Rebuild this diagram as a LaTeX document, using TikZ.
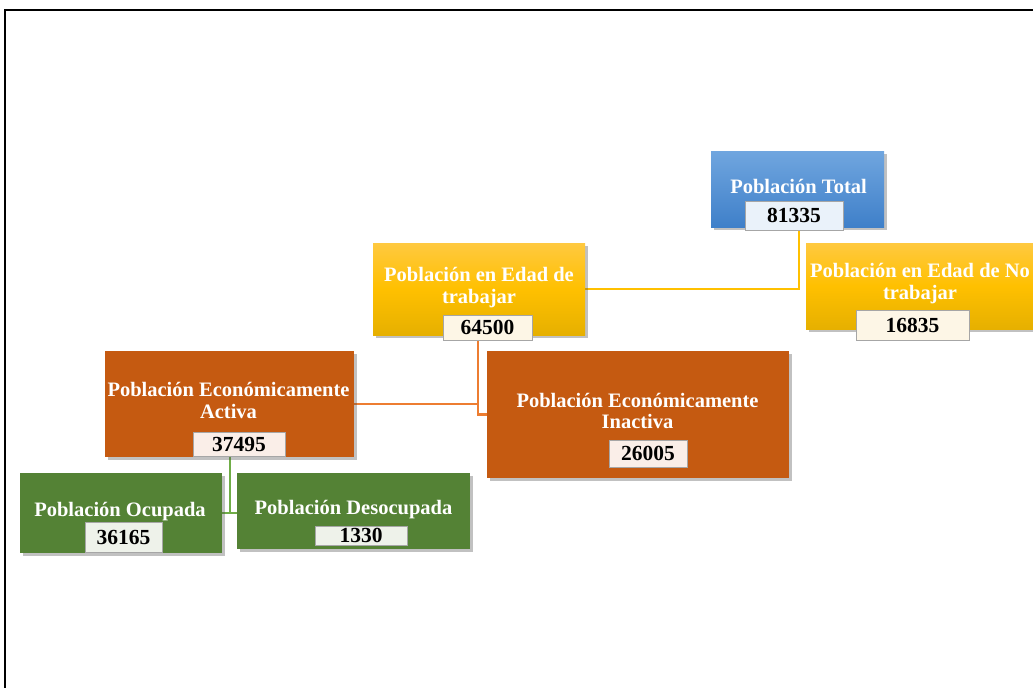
\documentclass[tikz,border=0pt]{standalone}
\usepackage{fontspec}
\setmainfont{Liberation Serif}
\usetikzlibrary{shadows,backgrounds}

\definecolor{blueTop}{HTML}{70A6DF}
\definecolor{blueBot}{HTML}{3F80C9}
\definecolor{yelTop}{HTML}{FFC940}
\definecolor{yelMid}{HTML}{FFC000}
\definecolor{yelBot}{HTML}{E6B000}
\definecolor{rust}{HTML}{C55A11}
\definecolor{leaf}{HTML}{548235}
\definecolor{lineYel}{HTML}{FFC000}
\definecolor{lineOra}{HTML}{ED7D31}
\definecolor{lineGrn}{HTML}{70AD47}
\definecolor{valEdge}{HTML}{A6A6A6}
\definecolor{valBlue}{HTML}{EAF2FA}
\definecolor{valYel}{HTML}{FDF6E6}
\definecolor{valRust}{HTML}{FAEEE8}
\definecolor{valLeaf}{HTML}{EEF2EA}

\tikzset{
  box/.style={rectangle, inner sep=0pt, draw=none,
    drop shadow={shadow xshift=2.5pt, shadow yshift=-2.5pt, opacity=0.35, fill=black!70}},
  bluebox/.style={box, top color=blueTop, bottom color=blueBot},
  yelbox/.style={box, top color=yelTop, bottom color=yelBot, middle color=yelMid},
  rustbox/.style={box, fill=rust},
  leafbox/.style={box, fill=leaf},
  title/.style={inner sep=0pt, text=white, align=center,
    font=\fontsize{20.5}{21.5}\selectfont\bfseries},
  value/.style={rectangle, inner sep=0pt, draw=valEdge, line width=0.9pt,
    font=\fontsize{21.5}{22}\selectfont\bfseries, text=black},
  link/.style={line width=2.2pt},
}

\begin{document}
\begin{tikzpicture}[x=1pt,y=-1pt]
\useasboundingbox (0,0) rectangle (1033,688);

% page frame
\coordinate (frTR) at (1033,10);
\coordinate (frTL) at (5,10);
\coordinate (frBL) at (5,688);
\draw[line width=2pt, line join=miter] (frTR) -- (frTL) -- (frBL);

% main boxes
\node[bluebox, minimum width=173pt, minimum height=76pt] (tot) at (797.5,189) {};
\node[yelbox, minimum width=212pt, minimum height=92pt] (edad) at (479,289) {};
\node[yelbox, minimum width=230pt, minimum height=86pt] (noedad) at (921,286) {};
\node[rustbox, minimum width=249pt, minimum height=106pt] (pea) at (229.5,404) {};
\node[rustbox, minimum width=302pt, minimum height=127pt] (pei) at (638,414.5) {};
\node[leafbox, minimum width=202pt, minimum height=80pt] (ocup) at (121,513) {};
\node[leafbox, minimum width=233pt, minimum height=76pt] (desoc) at (353.5,511) {};

% titles
\node[title] (totT) at (798.5,186) {Población Total};
\node[title] (edadT) at (479,287.5) {Población en Edad de\\trabajar};
\node[title] (noedadT) at (920,283.5) {Población en Edad de No\\trabajar};
\node[title] (peaT) at (228.5,400.5) {Población Económicamente\\Activa};
\node[title] (peiT) at (637.5,411) {Población Económicamente\\Inactiva};
\node[title] (ocupT) at (120,512) {Población Ocupada};
\node[title] (desocT) at (353.5,510) {Población Desocupada};

% figures
\node[value, fill=valBlue, minimum width=98pt, minimum height=29pt] (totv) at (794,215.5) {81335};
\node[value, fill=valYel, minimum width=89pt, minimum height=25pt] (edadv) at (487.5,327.5) {64500};
\node[value, fill=valYel, minimum width=113pt, minimum height=30pt] (noedadv) at (912.5,325) {16835};
\node[value, fill=valRust, minimum width=92pt, minimum height=24pt] (peav) at (239,444) {37495};
\node[value, fill=valRust, minimum width=78pt, minimum height=27pt] (peiv) at (648,453.5) {26005};
\node[value, fill=valLeaf, minimum width=77pt, minimum height=30pt] (ocupv) at (123.5,537) {36165};
\node[value, fill=valLeaf, minimum width=92pt, minimum height=19pt] (desocv) at (361,535.5) {1330};

% connectors behind the boxes
\begin{scope}[on background layer]
  \draw[link, lineYel] ([xshift=5pt]totv.south) |- (edad.east);
  \draw[link, lineOra] ([xshift=-9.5pt]edadv.south) |- (pei.west);
  \draw[link, lineOra] (pea.east) -| ([xshift=-9.5pt]edadv.south);
  \draw[link, lineGrn] ([xshift=-9pt]peav.south) |- (ocup.east);
  \draw[link, lineGrn] (ocup.east) -- (desoc.west |- ocup.east);
\end{scope}
\end{tikzpicture}
\end{document}
